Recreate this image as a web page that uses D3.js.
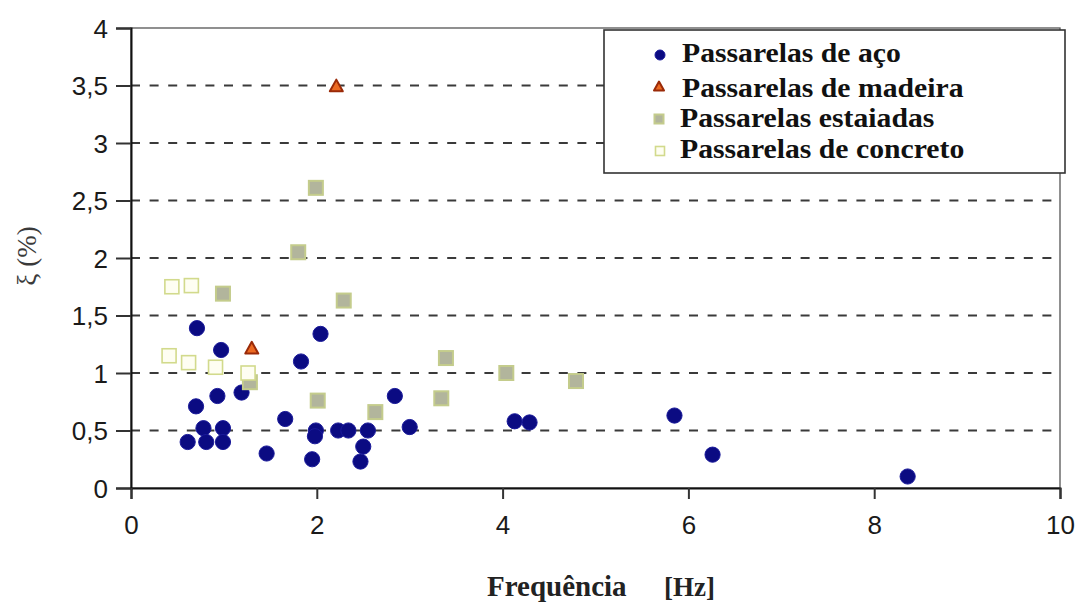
<!DOCTYPE html>
<html>
<head>
<meta charset="utf-8">
<script src="https://cdn.jsdelivr.net/npm/d3@7"></script>
<style>
  html, body { margin: 0; padding: 0; background: #fff; }
  svg { display: block; }
</style>
</head>
<body>
<svg id="chart" width="1080" height="602"></svg>
<script>
// Damping ratio (ξ, %) versus natural frequency (Hz) of footbridges, by type
const steelFreq   = [0.71, 0.97, 1.83, 2.04, 0.93, 1.19, 0.70, 1.66, 0.78, 0.99, 0.61, 0.81, 0.99, 1.46, 1.95,
                     1.99, 1.98, 2.23, 2.34, 2.55, 2.50, 2.47, 2.84, 3.00, 4.13, 4.29, 5.85, 6.26, 8.36];
const steelDamp   = [1.39, 1.20, 1.10, 1.34, 0.80, 0.83, 0.71, 0.60, 0.52, 0.52, 0.40, 0.40, 0.40, 0.30, 0.25,
                     0.50, 0.45, 0.50, 0.50, 0.50, 0.36, 0.23, 0.80, 0.53, 0.58, 0.57, 0.63, 0.29, 0.10];
const woodFreq    = [1.30, 2.21];
const woodDamp    = [1.21, 3.49];
const stayedFreq  = [0.99, 1.28, 2.01, 2.29, 1.99, 1.80, 3.39, 3.34, 2.63, 4.04, 4.79];
const stayedDamp  = [1.69, 0.92, 0.76, 1.63, 2.61, 2.05, 1.13, 0.78, 0.66, 1.00, 0.93];
const concreteFreq = [0.44, 0.65, 0.41, 0.62, 0.91, 1.26];
const concreteDamp = [1.75, 1.76, 1.15, 1.09, 1.05, 1.00];

const seriesNames = ["Passarelas de aço", "Passarelas de madeira", "Passarelas estaiadas", "Passarelas de concreto"];
const xTicks = [0, 2, 4, 6, 8, 10];
const yTicks = [0, 0.5, 1, 1.5, 2, 2.5, 3, 3.5, 4];
const xTitle = ["Frequência", "[Hz]"];
const yTitle = "ξ (%)";

const svg = d3.select("#chart");
const plot = { left: 131, right: 1060, top: 28, bottom: 488 };

const x = d3.scaleLinear().domain([0, 10]).range([plot.left, plot.right]);
const y = d3.scaleLinear().domain([0, 4]).range([plot.bottom, plot.top]);
const fmt = v => String(v).replace(".", ",");

// plot frame
svg.append("rect")
  .attr("x", plot.left).attr("y", plot.top)
  .attr("width", plot.right - plot.left).attr("height", plot.bottom - plot.top)
  .attr("fill", "none").attr("stroke", "#555").attr("stroke-width", 1.3);

// dashed horizontal gridlines
svg.append("g").selectAll("line")
  .data(yTicks.filter(v => v > 0 && v < 4))
  .join("line")
  .attr("x1", plot.left).attr("x2", plot.right)
  .attr("y1", d => y(d)).attr("y2", d => y(d))
  .attr("stroke", "#3a3a3a").attr("stroke-width", 2)
  .attr("stroke-dasharray", "9,9.6");

// axes
const yAxis = svg.append("g")
  .attr("transform", `translate(${plot.left},0)`)
  .call(d3.axisLeft(y).tickValues(yTicks).tickFormat(fmt).tickSize(15).tickPadding(8));
const xAxis = svg.append("g")
  .attr("transform", `translate(0,${plot.bottom})`)
  .call(d3.axisBottom(x).tickValues(xTicks).tickFormat(fmt).tickSize(11).tickPadding(17));
[yAxis, xAxis].forEach(g => {
  g.select(".domain").attr("stroke", "#111").attr("stroke-width", 2);
  g.selectAll(".tick line").attr("stroke", "#333").attr("stroke-width", 2);
  g.selectAll(".tick text")
    .attr("fill", "#1a1a1a")
    .style("font-family", "'Liberation Sans', Arial, sans-serif")
    .style("font-size", "26px");
});
yAxis.selectAll(".tick text").attr("dy", "0.36em");

// marker drawers
const steelColor = "#0b0b82";
function drawCircle(sel, cx, cy, r) {
  sel.append("circle").attr("cx", cx).attr("cy", cy).attr("r", r)
    .attr("fill", steelColor).attr("stroke", "#1a1a9a").attr("stroke-width", 1);
}
function drawTriangle(sel, cx, cy, s) {
  const h = s * 0.9;
  sel.append("path")
    .attr("d", `M${cx},${cy - h * 0.6}L${cx + s / 2},${cy + h * 0.4}L${cx - s / 2},${cy + h * 0.4}Z`)
    .attr("fill", "#ec6a22").attr("stroke", "#9a2a08").attr("stroke-width", 2).attr("stroke-linejoin", "round");
}
function drawStayed(sel, cx, cy, s) {
  sel.append("rect").attr("x", cx - s / 2).attr("y", cy - s / 2).attr("width", s).attr("height", s)
    .attr("fill", "#b2b59c").attr("stroke", "#c4cc8c").attr("stroke-width", 2);
}
function drawConcrete(sel, cx, cy, s) {
  sel.append("rect").attr("x", cx - s / 2).attr("y", cy - s / 2).attr("width", s).attr("height", s)
    .attr("fill", "#fefef2").attr("stroke", "#d2da8c").attr("stroke-width", 1.6);
}

const pts = svg.append("g");
steelFreq.forEach((f, i) => drawCircle(pts, x(f), y(steelDamp[i]), 7.6));
woodFreq.forEach((f, i) => drawTriangle(pts, x(f), y(woodDamp[i]), 13));
stayedFreq.forEach((f, i) => drawStayed(pts, x(f), y(stayedDamp[i]), 14));
concreteFreq.forEach((f, i) => drawConcrete(pts, x(f), y(concreteDamp[i]), 14));

// axis titles
svg.append("text")
  .attr("transform", "translate(36,256) rotate(-90)")
  .attr("text-anchor", "middle")
  .style("font-family", "'Liberation Serif', 'Times New Roman', serif")
  .style("font-size", "27px").attr("fill", "#3a3a3a")
  .text(yTitle);
svg.append("text").attr("x", 487).attr("y", 596)
  .style("font-family", "'Liberation Serif', 'Times New Roman', serif")
  .style("font-size", "29px").style("font-weight", "bold").attr("fill", "#222")
  .text(xTitle[0]);
svg.append("text").attr("x", 664).attr("y", 596)
  .style("font-family", "'Liberation Serif', 'Times New Roman', serif")
  .style("font-size", "27px").style("font-weight", "bold").attr("fill", "#222")
  .text(xTitle[1]);

// legend
const lg = svg.append("g");
lg.append("rect").attr("x", 604).attr("y", 30).attr("width", 461).attr("height", 143)
  .attr("fill", "#fff").attr("stroke", "#333").attr("stroke-width", 1.6);
const rowY = [55, 87, 119, 151];
const rowBase = [62, 97, 127, 158];
drawCircle(lg, 660, rowY[0], 5);
drawTriangle(lg, 659, rowY[1], 10);
drawStayed(lg, 659, rowY[2], 9);
drawConcrete(lg, 660, rowY[3], 9);
// labels set slightly condensed in height so the tight rows stay clear of each other
const xStretch = 1.1;
lg.selectAll("text.leg").data(seriesNames).join("text")
  .attr("class", "leg")
  .attr("transform", (d, i) => `translate(${i < 2 ? 682 : 680},${rowBase[i]}) scale(${xStretch},1)`)
  .style("font-family", "'Liberation Serif', 'Times New Roman', serif")
  .style("font-size", "27px").style("font-weight", "bold").attr("fill", "#111")
  .text(d => d);
</script>
</body>
</html>
